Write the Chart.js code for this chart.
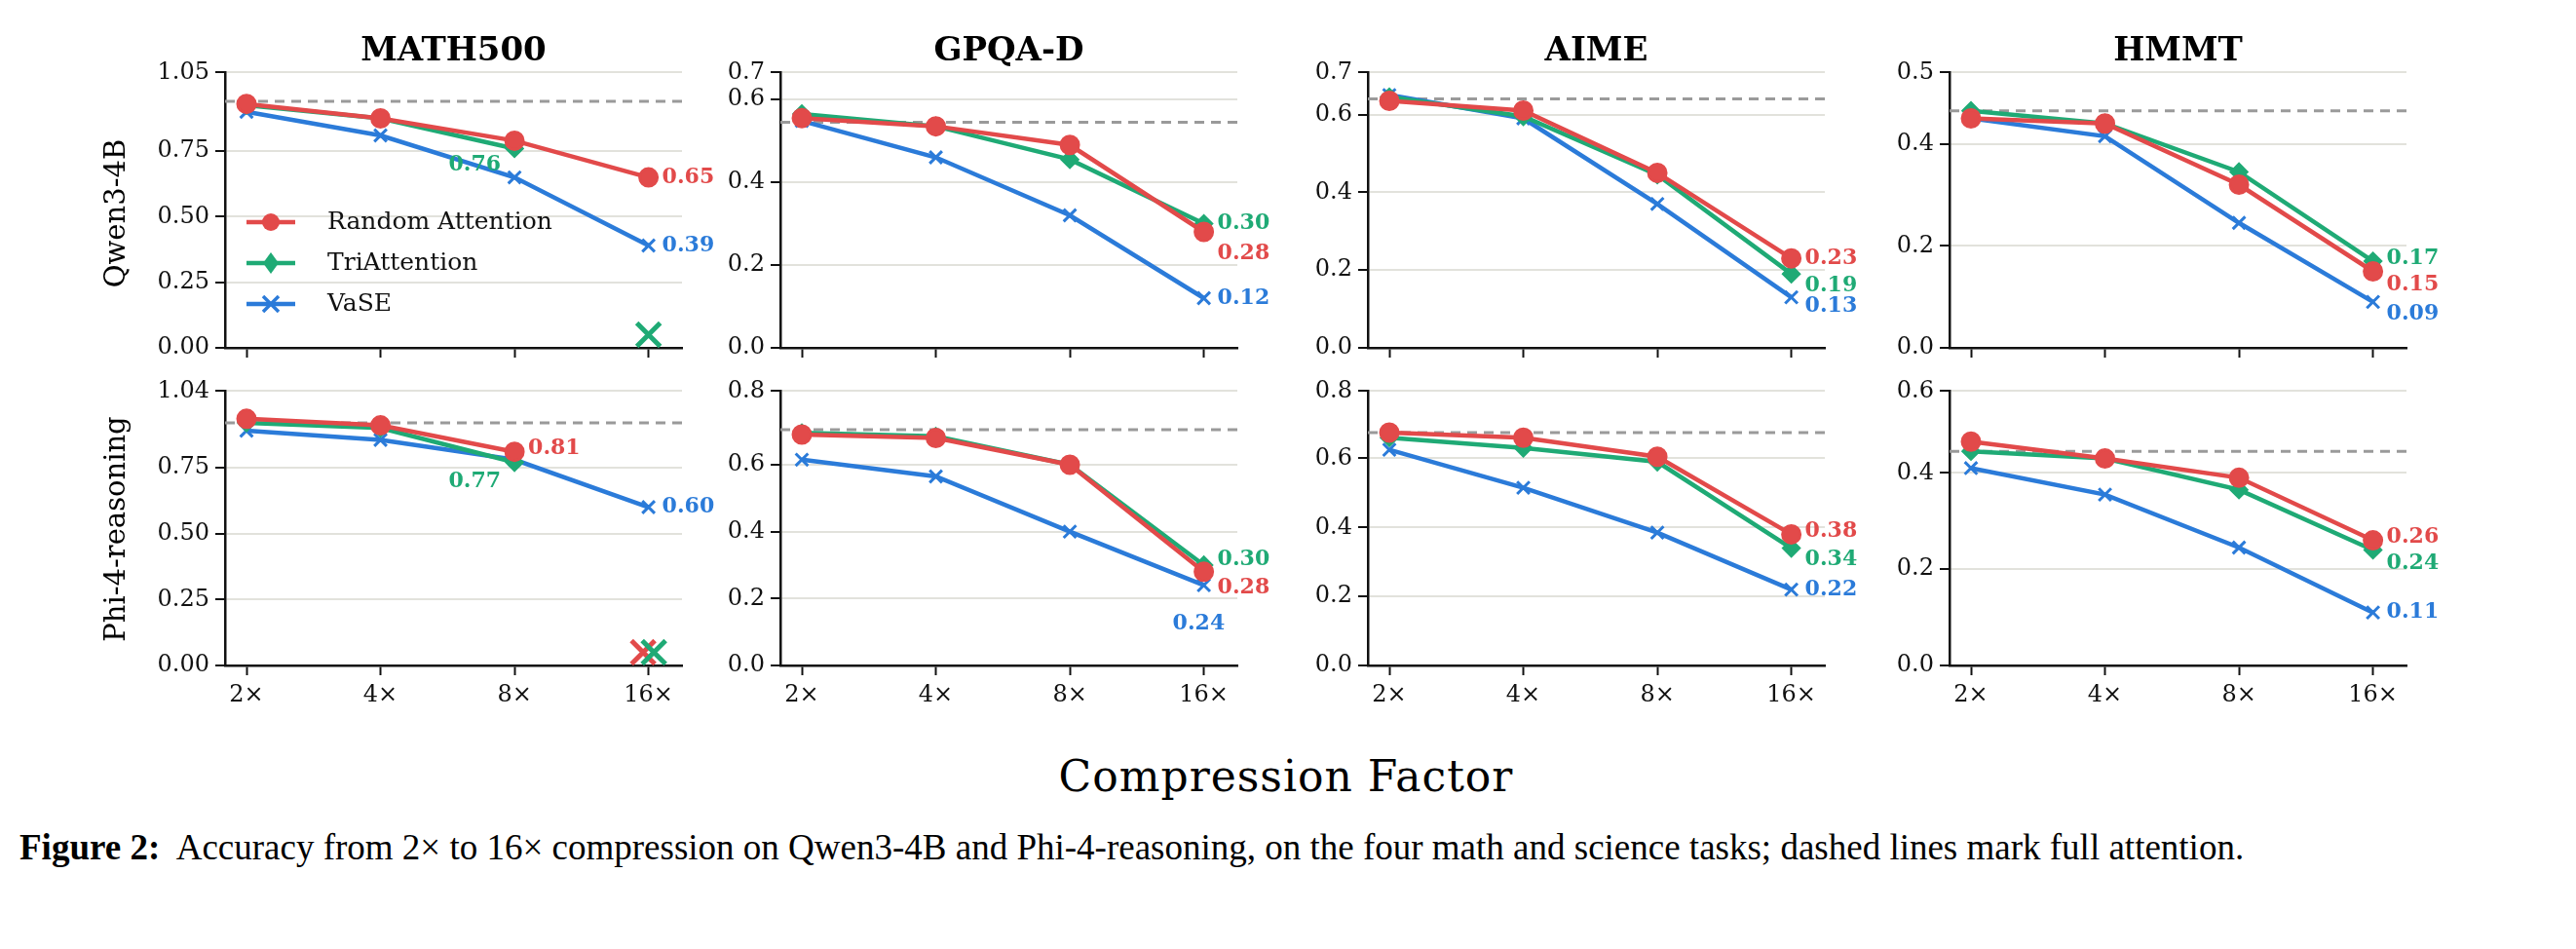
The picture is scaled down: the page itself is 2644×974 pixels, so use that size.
<!DOCTYPE html>
<html><head><meta charset="utf-8">
<script src="https://cdn.jsdelivr.net/npm/chart.js@4.4.1/dist/chart.umd.min.js"></script>
<style>
body{margin:0;background:#fff;width:2644px;height:974px;position:relative;overflow:hidden;font-family:"DejaVu Serif",serif}
canvas{position:absolute}
.t{position:absolute;white-space:nowrap;color:#000}
</style></head><body>
<script>
const categories=['2×','4×','8×','16×'];
const datasets=['MATH500','GPQA-D','AIME','HMMT'];
const models=['Qwen3-4B','Phi-4-reasoning'];
// Qwen3-4B
const q_math_rand=[0.93,0.875,0.79,0.65], q_math_tri=[0.925,0.875,0.76,null], q_math_vase=[0.90,0.81,0.65,0.39], q_math_full=0.94;
const q_gpqa_rand=[0.555,0.535,0.49,0.28], q_gpqa_tri=[0.565,0.535,0.455,0.30], q_gpqa_vase=[0.548,0.46,0.32,0.12], q_gpqa_full=0.545;
const q_aime_rand=[0.635,0.61,0.45,0.23], q_aime_tri=[0.645,0.595,0.445,0.19], q_aime_vase=[0.65,0.59,0.37,0.13], q_aime_full=0.64;
const q_hmmt_rand=[0.45,0.44,0.32,0.15], q_hmmt_tri=[0.465,0.44,0.345,0.17], q_hmmt_vase=[0.45,0.415,0.245,0.09], q_hmmt_full=0.465;
// Phi-4-reasoning
const p_math_rand=[0.935,0.91,0.81,null], p_math_tri=[0.92,0.90,0.77,null], p_math_vase=[0.89,0.855,0.78,0.60], p_math_full=0.92;
const p_gpqa_rand=[0.69,0.68,0.60,0.28], p_gpqa_tri=[0.695,0.685,0.60,0.30], p_gpqa_vase=[0.615,0.565,0.40,0.24], p_gpqa_full=0.705;
const p_aime_rand=[0.675,0.66,0.605,0.38], p_aime_tri=[0.66,0.63,0.59,0.34], p_aime_vase=[0.625,0.515,0.385,0.22], p_aime_full=0.675;
const p_hmmt_rand=[0.465,0.43,0.39,0.26], p_hmmt_tri=[0.445,0.43,0.365,0.24], p_hmmt_vase=[0.41,0.355,0.245,0.11], p_hmmt_full=0.445;
// collapsed runs (plotted as isolated X markers at 16x)
const q_math_collapse_tri=0.05, p_math_collapse_rand=0.05, p_math_collapse_tri=0.05;

const C={r:'#e24a4a',g:'#1faa75',b:'#2b7bd9'};
const panels=[
 {r:q_math_rand,t:q_math_tri,v:q_math_vase,f:q_math_full,max:1.05,step:0.25,dec:2,
  lab:[['t',2,-14,17,'right'],['r',3,14,0],['v',3,14,0]],col:[['t',q_math_collapse_tri,0]]},
 {r:q_gpqa_rand,t:q_gpqa_tri,v:q_gpqa_vase,f:q_gpqa_full,max:0.665,step:0.2,dec:1,
  lab:[['t',3,14,0],['r',3,14,22],['v',3,14,0]]},
 {r:q_aime_rand,t:q_aime_tri,v:q_aime_vase,f:q_aime_full,max:0.708,step:0.2,dec:1,
  lab:[['r',3,14,0],['t',3,14,12],['v',3,14,9]]},
 {r:q_hmmt_rand,t:q_hmmt_tri,v:q_hmmt_vase,f:q_hmmt_full,max:0.54,step:0.2,dec:1,
  lab:[['t',3,14,-3],['r',3,14,14],['v',3,14,12]]},
 {r:p_math_rand,t:p_math_tri,v:p_math_vase,f:p_math_full,max:1.04,step:0.25,dec:2,
  lab:[['r',2,14,-3],['t',2,-14,20,'right'],['v',3,14,0]],col:[['r',p_math_collapse_rand,-0.04],['t',p_math_collapse_tri,0.04]]},
 {r:p_gpqa_rand,t:p_gpqa_tri,v:p_gpqa_vase,f:p_gpqa_full,max:0.82,step:0.2,dec:1,
  lab:[['t',3,14,-6],['r',3,14,16],['v',3,-32,40]]},
 {r:p_aime_rand,t:p_aime_tri,v:p_aime_vase,f:p_aime_full,max:0.795,step:0.2,dec:1,
  lab:[['r',3,14,-3],['t',3,14,12],['v',3,14,0]]},
 {r:p_hmmt_rand,t:p_hmmt_tri,v:p_hmmt_vase,f:p_hmmt_full,max:0.57,step:0.2,dec:1,
  lab:[['r',3,14,-3],['t',3,14,14],['v',3,14,0]]},
];
const spineX=[231,801,1404,2001], plotW=469;
const rowTop=[74,401], rowBot=[357,683];
const LPAD=130,RPAD=110,TPAD=20,XH=60;

function xmark(ctx,x,y,s,col,lw){ctx.save();ctx.strokeStyle=col;ctx.lineWidth=lw;ctx.beginPath();
 ctx.moveTo(x-s,y-s);ctx.lineTo(x+s,y+s);ctx.moveTo(x-s,y+s);ctx.lineTo(x+s,y-s);ctx.stroke();ctx.restore();}

panels.forEach((p,i)=>{
 const row=Math.floor(i/4), col=i%4;
 const cv=document.createElement('canvas');
 const W=LPAD+plotW+RPAD, H=TPAD+(rowBot[row]-rowTop[row])+XH;
 cv.width=W;cv.height=H;cv.style.left=(spineX[col]-LPAD)+'px';cv.style.top=(rowTop[row]-TPAD)+'px';
 document.body.appendChild(cv);
 const mk=(d)=>d.map((y,k)=>({x:k,y:y}));
 const ds=(label,d,c,style,rad)=>({label,data:mk(d),borderColor:c,backgroundColor:c,pointStyle:style,pointRadius:rad,pointHoverRadius:rad,borderWidth:4.5,pointBorderWidth:3,spanGaps:false,tension:0});
 const extra={id:'extra'+i,
  beforeDatasetsDraw(ch){const {ctx,chartArea:a,scales:{y}}=ch;const yy=y.getPixelForValue(p.f);
   ctx.save();ctx.strokeStyle='#9a9a9a';ctx.lineWidth=3;ctx.setLineDash([10,7]);ctx.beginPath();ctx.moveTo(a.left,yy);ctx.lineTo(a.right,yy);ctx.stroke();ctx.restore();},
  afterDatasetsDraw(ch){const {ctx,scales:{x,y}}=ch;
   (p.col||[]).forEach(([s,v,dx])=>xmark(ctx,x.getPixelForValue(3+dx),y.getPixelForValue(v),12,s==='r'?C.r:s==='t'?C.g:C.b,5));
   ctx.save();ctx.font='bold 22px "DejaVu Serif"';ctx.textBaseline='middle';
   p.lab.forEach(([s,k,dx,dy,al])=>{const arr=s==='r'?p.r:s==='t'?p.t:p.v;const c=s==='r'?C.r:s==='t'?C.g:C.b;
    ctx.fillStyle=c;ctx.textAlign=al||'left';ctx.fillText(arr[k].toFixed(2),x.getPixelForValue(k)+dx,y.getPixelForValue(arr[k])+dy);});
   ctx.restore();
   if(i===0){ // legend
    const items=[['Random Attention',C.r,'c'],['TriAttention',C.g,'d'],['VaSE',C.b,'x']];
    ctx.save();ctx.font='25px "DejaVu Serif"';ctx.textBaseline='middle';ctx.textAlign='left';
    items.forEach(([t,c,m],j)=>{const yy=228-(rowTop[0]-TPAD)+j*42;const x0=253-(spineX[0]-LPAD);
     ctx.strokeStyle=c;ctx.lineWidth=4.5;ctx.beginPath();ctx.moveTo(x0,yy);ctx.lineTo(x0+50,yy);ctx.stroke();
     ctx.fillStyle=c;const cx=x0+25;
     if(m==='c'){ctx.beginPath();ctx.arc(cx,yy,9,0,7);ctx.fill();}
     else if(m==='d'){ctx.beginPath();ctx.moveTo(cx,yy-11);ctx.lineTo(cx+8,yy);ctx.lineTo(cx,yy+11);ctx.lineTo(cx-8,yy);ctx.closePath();ctx.fill();}
     else xmark(ctx,cx,yy,8,c,3.5);
     ctx.fillStyle='#111';ctx.fillText(t,x0+83,yy);});
    ctx.restore();}
  }};
 new Chart(cv,{type:'line',
  data:{datasets:[ds('Random Attention',p.r,C.r,'circle',9),ds('TriAttention',p.t,C.g,'rectRot',8),ds('VaSE',p.v,C.b,'crossRot',9)]},
  options:{responsive:false,animation:false,devicePixelRatio:1,
   layout:{padding:{left:0,right:RPAD,top:TPAD,bottom:0}},
   plugins:{legend:{display:false},tooltip:{enabled:false}},
   scales:{
    x:{type:'linear',min:-0.16,max:3.25,afterFit(s){s.height=XH;},
     afterBuildTicks(s){s.ticks=[0,1,2,3].map(v=>({value:v}));},
     ticks:{display:row===1,callback:v=>categories[v],font:{family:'DejaVu Serif',size:24},color:'#111',padding:6,maxRotation:0},
     grid:{drawOnChartArea:false,tickLength:10,tickColor:'#111',tickWidth:2},border:{color:'#111',width:2.5}},
    y:{min:0,max:p.max,afterFit(s){s.width=LPAD;},
     ticks:{stepSize:p.step,callback:v=>Number(v).toFixed(p.dec),font:{family:'DejaVu Serif',size:24},color:'#111',padding:6},
     grid:{color:'#e2e2dc',lineWidth:2,tickLength:10,tickColor:'#111',tickWidth:2},border:{color:'#111',width:2.5}}
   }},
  plugins:[extra]});
});
// titles
datasets.forEach((t,c)=>{const d=document.createElement('div');d.className='t';d.textContent=t;
 d.style.cssText+=`left:${spineX[c]+plotW/2}px;top:50px;transform:translate(-50%,-50%);font:bold 34px "DejaVu Serif"`;document.body.appendChild(d);});
models.forEach((t,r)=>{const d=document.createElement('div');d.className='t';d.textContent=t;
 d.style.cssText+=`left:118px;top:${r?543:219}px;transform:translate(-50%,-50%) rotate(-90deg);font:29px "DejaVu Serif"`;document.body.appendChild(d);});
const xl=document.createElement('div');xl.className='t';xl.textContent='Compression Factor';
xl.style.cssText+='left:1320px;top:796px;transform:translate(-50%,-50%);font:44px "DejaVu Serif";letter-spacing:1px';document.body.appendChild(xl);
const cap=document.createElement('div');cap.className='t';
cap.style.cssText+='left:20px;top:845px;font:37px "Liberation Serif";line-height:50px;white-space:normal;width:2610px';
cap.innerHTML='<b>Figure 2:</b>&nbsp; Accuracy from 2× to 16× compression on Qwen3-4B and Phi-4-reasoning, on the four math and science tasks; dashed lines mark full attention.';
document.body.appendChild(cap);
</script></body></html>
